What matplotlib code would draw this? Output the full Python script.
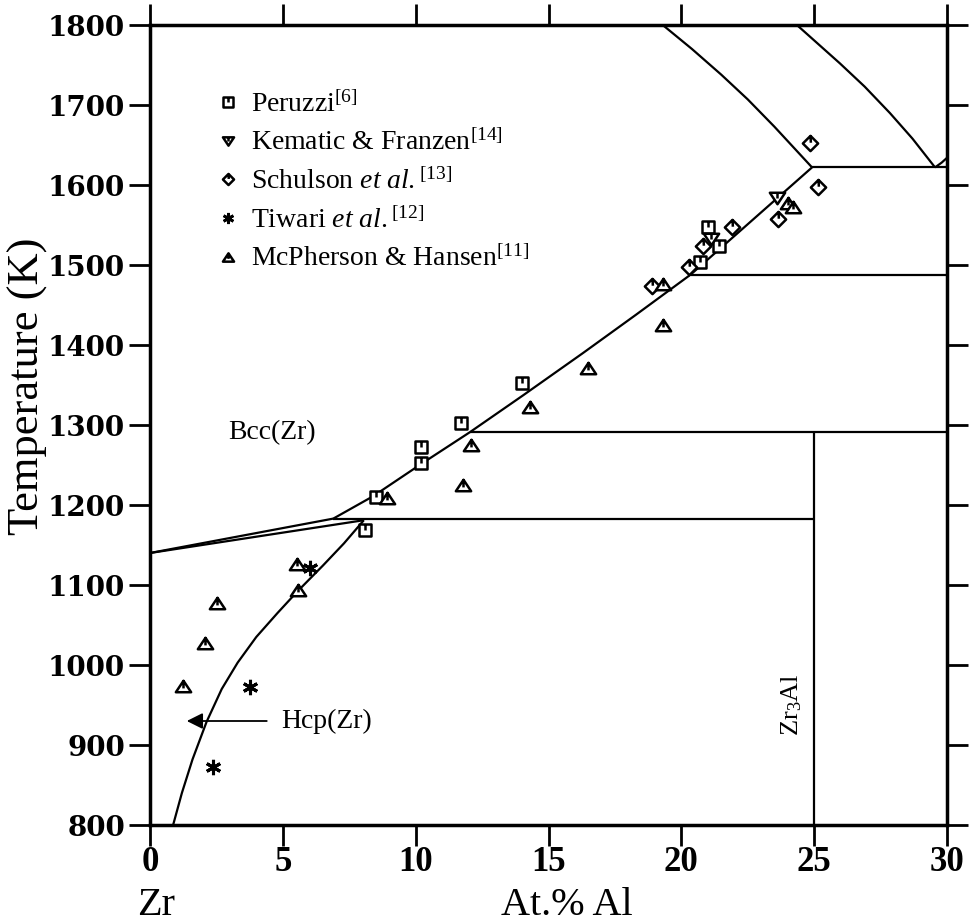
import matplotlib
matplotlib.use('Agg')
import matplotlib.pyplot as plt
from matplotlib.path import Path
from matplotlib.lines import Line2D

plt.rcParams['font.family'] = ['Liberation Serif', 'DejaVu Serif']
plt.rcParams['mathtext.fontset'] = 'custom'
plt.rcParams['mathtext.rm'] = 'Liberation Serif'
plt.rcParams['mathtext.it'] = 'Liberation Serif:italic'
plt.rcParams['mathtext.bf'] = 'Liberation Serif:bold'

# ---------------- data ----------------
x_ticks = [0, 5, 10, 15, 20, 25, 30]
y_ticks = [800, 900, 1000, 1100, 1200, 1300, 1400, 1500, 1600, 1700, 1800]

peruzzi_x = [8.1, 8.5, 10.2, 10.2, 11.7, 14.0, 20.7, 21.0, 21.4]
peruzzi_T = [1169, 1210, 1273, 1253, 1303, 1353, 1504, 1548, 1524]

kematic_x = [21.1, 23.6]
kematic_T = [1533, 1584]

schulson_x = [18.9, 20.3, 20.8, 21.9, 23.65, 24.85, 25.15]
schulson_T = [1474, 1498, 1524, 1548, 1557, 1653, 1598]

tiwari_x = [2.37, 3.76, 6.02]
tiwari_T = [872, 972, 1121]

mcpherson_x = [1.24, 2.07, 2.52, 5.53, 5.57, 8.92, 11.78, 12.08, 14.3, 16.48, 19.3, 19.3, 24.0, 24.2]
mcpherson_T = [974, 1027, 1078, 1126, 1094, 1209, 1225, 1275, 1322, 1371, 1425, 1476, 1577, 1573]

# phase boundaries
hcp_x = [0.87, 1.2, 1.6, 2.13, 2.7, 3.3, 4.0, 4.8, 5.55, 6.5, 7.3, 8.05]
hcp_T = [800, 840, 882, 929, 970, 1003, 1035, 1065, 1092, 1124, 1152, 1181]

solvus_low_x = [0.0, 8.05]
solvus_low_T = [1140, 1181]
solvus_up_x = [0.0, 6.9]
solvus_up_T = [1140, 1183]

bcc_x = [6.9, 8.4, 10.24, 12.04, 14.04, 16.3, 18.3, 20.35, 22.5, 24.92]
bcc_T = [1183, 1211, 1252, 1291, 1337, 1390, 1438, 1488, 1551, 1622]

liq1_x = [19.3, 20.4, 21.5, 22.5, 23.5, 24.92]
liq1_T = [1800, 1770, 1738, 1707, 1673, 1622]

liq2_x = [24.35, 25.97, 26.9, 27.85, 28.7, 29.55]
liq2_T = [1800, 1752, 1723, 1690, 1658, 1622]

arc_x = [29.55, 29.8, 30.0]
arc_T = [1622, 1628, 1634]

eutectoid_x = [6.9, 25.0]
eutectoid_T = [1183, 1183]
h1291_x = [12.04, 30]
h1291_T = [1291, 1291]
h1488_x = [20.35, 30]
h1488_T = [1488, 1488]
h1622_x = [24.92, 30]
h1622_T = [1622, 1622]
zr3al_x = [25.0, 25.0]
zr3al_T = [800, 1291]

# ---------------- markers ----------------
M, L, C = Path.MOVETO, Path.LINETO, Path.CLOSEPOLY
sq_path = Path([(-1, -1), (1, -1), (1, 1), (-1, 1), (-1, -1), (0, 1), (0, 0.05)],
               [M, L, L, L, C, M, L])
tri_path = Path([(-1, -0.75), (1, -0.75), (0, 0.75), (-1, -0.75), (0, 0.75), (0, -0.25)],
                [M, L, L, C, M, L])
itri_path = Path([(-1, 0.75), (1, 0.75), (0, -0.75), (-1, 0.75), (0, 0.75), (0, 0.0)],
                 [M, L, L, C, M, L])
dia_path = Path([(0, 1), (1, 0), (0, -1), (-1, 0), (0, 1), (0, 1), (0.05, 0.1)],
                [M, L, L, L, C, M, L])
star_m = (6, 2, 0)

fig = plt.figure(figsize=(9.69, 9.24), dpi=100)
ax = fig.add_axes([150/969, 1-825/924, 797/969, 800/924])

lw = 1.6
for xs, ts in [(hcp_x, hcp_T), (solvus_low_x, solvus_low_T), (solvus_up_x, solvus_up_T),
               (bcc_x, bcc_T), (liq1_x, liq1_T), (liq2_x, liq2_T), (arc_x, arc_T),
               (eutectoid_x, eutectoid_T), (h1291_x, h1291_T), (h1488_x, h1488_T),
               (h1622_x, h1622_T), (zr3al_x, zr3al_T)]:
    ax.plot(xs, ts, color='black', lw=lw, solid_capstyle='butt', solid_joinstyle='round')

mk = dict(ls='none', mfc='white', mec='black', mew=1.8, zorder=5)
ax.plot(peruzzi_x, peruzzi_T, marker=sq_path, ms=9, **mk)
ax.plot(kematic_x, kematic_T, marker=itri_path, ms=11, **mk)
ax.plot(schulson_x, schulson_T, marker=dia_path, ms=11, **mk)
ax.plot(tiwari_x, tiwari_T, marker=star_m, ms=11, ls='none', color='black', mew=2.2, zorder=5)
ax.plot(mcpherson_x, mcpherson_T, marker=tri_path, ms=11, **mk)

# legend
lmk = dict(ls='none', mfc='white', mec='black', mew=1.8)
handles = [
    Line2D([], [], marker=sq_path, ms=7, **lmk),
    Line2D([], [], marker=itri_path, ms=8, **lmk),
    Line2D([], [], marker=dia_path, ms=8, **lmk),
    Line2D([], [], marker=star_m, ms=8, ls='none', color='black', mew=2),
    Line2D([], [], marker=tri_path, ms=8, **lmk),
]
labels = [r"Peruzzi$^{[6]}$",
          r"Kematic & Franzen$^{[14]}$",
          r"Schulson $\mathit{et\ al.}^{[13]}$",
          r"Tiwari $\mathit{et\ al.}^{[12]}$",
          r"McPherson & Hansen$^{[11]}$"]
ax.legend(handles, labels, loc='upper left', bbox_to_anchor=(0.080, 0.917),
          frameon=False, fontsize=20, handlelength=1.0, handletextpad=0.35,
          labelspacing=0.44, borderpad=0, borderaxespad=0)

# annotations
ax.text(4.6, 1290, "Bcc(Zr)", ha='center', va='center', fontsize=20)
ax.text(4.93, 930, "Hcp(Zr)", ha='left', va='center', fontsize=20)
ax.annotate('', xy=(1.28, 930), xytext=(4.5, 930),
            arrowprops=dict(arrowstyle='-|>', color='black', lw=1.3, mutation_scale=24))
ax.text(24.16, 950, r"Zr$_3$Al", rotation=90, ha='center', va='center', fontsize=19)

# axes
ax.set_xlim(0, 30)
ax.set_ylim(800, 1800)
ax.set_xticks(x_ticks)
ax.set_yticks(y_ticks)
ax.set_xticklabels([str(v) for v in x_ticks], fontsize=25, fontweight='bold',
                   family='Liberation Serif')
ax.set_yticklabels([str(v) for v in y_ticks], fontsize=20, fontweight='bold',
                   family='DejaVu Serif')
ax.tick_params(axis='both', direction='out', length=15, width=2,
               top=True, right=True, labeltop=False, labelright=False)
ax.tick_params(axis='x', pad=0)
ax.tick_params(axis='y', pad=3)
for s in ax.spines.values():
    s.set_linewidth(2.5)

fig.text(28/969, 1-386/924, "Temperature (K)", rotation=90, ha='center', va='center',
         fontsize=32)
fig.text(567/969, 1-915/924, "At.% Al", ha='center', va='baseline', fontsize=29)
fig.text(137/969, 1-915/924, "Zr", ha='left', va='baseline', fontsize=29)

fig.savefig('out.png', dpi=100)
